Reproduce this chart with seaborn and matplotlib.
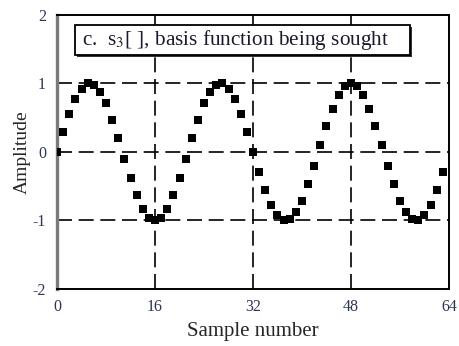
import matplotlib
matplotlib.use("Agg")
import matplotlib.pyplot as plt
from matplotlib.patches import Rectangle
import seaborn as sns
import pandas as pd

# s3[] : samples of the basis function (three cycles over 64 points)
sample_index = list(range(64))
amplitude = [
    0.00, 0.29, 0.56, 0.77, 0.92, 1.00, 0.98, 0.88,
    0.71, 0.47, 0.20, -0.10, -0.38, -0.63, -0.83, -0.96,
    -1.00, -0.96, -0.83, -0.63, -0.38, -0.10, 0.20, 0.47,
    0.71, 0.88, 0.98, 1.00, 0.92, 0.77, 0.56, 0.29,
    0.00, -0.29, -0.56, -0.77, -0.92, -1.00, -0.98, -0.88,
    -0.71, -0.47, -0.20, 0.10, 0.38, 0.63, 0.83, 0.96,
    1.00, 0.96, 0.83, 0.63, 0.38, 0.10, -0.20, -0.47,
    -0.71, -0.88, -0.98, -1.00, -0.92, -0.77, -0.56, -0.29,
]
x_ticks = [0, 16, 32, 48, 64]
y_ticks = [-2, -1, 0, 1, 2]
title_text = r"c.  s$_3$[ ], basis function being sought"
x_label = "Sample number"
y_label = "Amplitude"

sns.set_style("white")
plt.rcParams["font.family"] = ["Liberation Serif", "DejaVu Serif"]
plt.rcParams["mathtext.fontset"] = "stix"
plt.rcParams["axes.unicode_minus"] = False

df = pd.DataFrame({"n": sample_index, "amp": amplitude})

fig = plt.figure(figsize=(4.6, 3.46), dpi=100)
ax = fig.add_axes([0.124, 0.165, 0.852, 0.792])

# dashed grid lines drawn first so markers sit on top
for xv in x_ticks[1:-1]:
    ax.axvline(xv, color="black", lw=1.2, dashes=(9, 4), zorder=1)
for yv in y_ticks[1:-1]:
    ax.axhline(yv, color="black", lw=1.2, dashes=(9, 4), zorder=1)

sns.scatterplot(data=df, x="n", y="amp", marker="s", s=28, color="black",
                edgecolor="black", linewidth=0, ax=ax, zorder=3)

ax.set_xlim(0, 64)
ax.set_ylim(-2, 2)
ax.set_xticks(x_ticks)
ax.set_yticks(y_ticks)
ax.tick_params(axis="both", direction="out", width=1,
               labelsize=11.5, colors="black", labelcolor="#2c3553")
ax.tick_params(axis="y", length=5, pad=3)
ax.tick_params(axis="x", length=3, pad=4)

for side in ["top", "right", "bottom"]:
    ax.spines[side].set_color("black")
    ax.spines[side].set_linewidth(1.4)
ax.spines["left"].set_color("#7a7a7a")
ax.spines["left"].set_linewidth(2.4)

ax.set_xlabel(x_label, fontsize=15, labelpad=5)
ax.set_ylabel(y_label, fontsize=14, labelpad=1)

# caption box with a slight drop shadow on the lower right
box_x0, box_x1 = 2.95, 57.6
box_y0, box_y1 = 1.415, 1.855
ax.add_patch(Rectangle((box_x0 + 0.35, box_y0 - 0.03), box_x1 - box_x0,
                       box_y1 - box_y0, facecolor="#333333",
                       edgecolor="none", zorder=4))
ax.add_patch(Rectangle((box_x0, box_y0), box_x1 - box_x0, box_y1 - box_y0,
                       facecolor="white", edgecolor="black", linewidth=1.3,
                       zorder=5))
ax.text(4.1, 1.64, title_text, fontsize=15.3, color="#1a1a2e",
        va="center", ha="left", zorder=6)

fig.savefig("out.png", dpi=100)
